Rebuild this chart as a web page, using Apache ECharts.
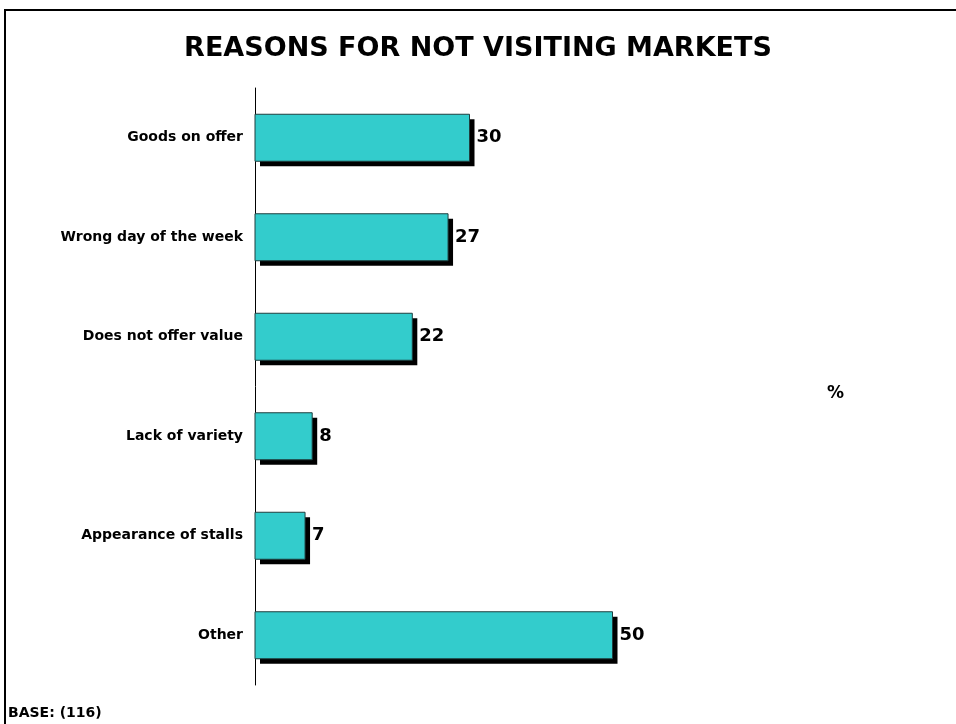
<!DOCTYPE html>
<html>
<head>
<meta charset="utf-8">
<script src="https://cdn.jsdelivr.net/npm/echarts@6/dist/echarts.min.js"></script>
<style>
  html, body { margin: 0; padding: 0; background: #fff; }
  #chart { width: 956px; height: 724px; }
</style>
</head>
<body>
<div id="chart"></div>
<script>
// Reasons given for not visiting markets (% of respondents)
const categories = [
  'Goods on offer',
  'Wrong day of the week',
  'Does not offer value',
  'Lack of variety',
  'Appearance of stalls',
  'Other'
];
const values = [30, 27, 22, 8, 7, 50];

const BAR_THICKNESS = 47;
const SHADOW_OFFSET = 5;

const chart = echarts.init(document.getElementById('chart'), null, { renderer: 'canvas' });

// Flat bar with a hard black drop shadow to the lower right
function renderShadowBar(params, api) {
  const cat = api.value(0);
  const val = api.value(1);
  const start = api.coord([0, cat]);
  const end = api.coord([val, cat]);
  const x = start[0];
  const y = start[1] - BAR_THICKNESS / 2;
  const w = end[0] - start[0];
  return {
    type: 'group',
    children: [
      {
        type: 'rect',
        shape: { x: x + SHADOW_OFFSET, y: y + SHADOW_OFFSET, width: w, height: BAR_THICKNESS },
        style: { fill: '#000' }
      },
      {
        type: 'rect',
        shape: { x: x, y: y, width: w, height: BAR_THICKNESS },
        style: { fill: '#33CCCC', stroke: '#1f3f3f', lineWidth: 1 }
      },
      {
        type: 'text',
        x: end[0] + SHADOW_OFFSET + 2,
        y: end[1],
        style: {
          text: String(val),
          fontFamily: 'DejaVu Sans',
          fontWeight: 'bold',
          fontSize: 18,
          fill: '#000',
          verticalAlign: 'middle',
          align: 'left'
        }
      }
    ]
  };
}

chart.setOption({
  backgroundColor: '#ffffff',
  animation: false,
  title: {
    text: 'REASONS FOR NOT VISITING MARKETS',
    left: 'center',
    top: 30,
    textStyle: {
      fontFamily: 'DejaVu Sans',
      fontWeight: 'bold',
      fontSize: 27,
      color: '#000'
    }
  },
  grid: { left: 255, top: 88, width: 572, height: 597 },
  xAxis: {
    type: 'value',
    min: 0,
    max: 80,
    show: false
  },
  yAxis: {
    type: 'category',
    data: categories,
    inverse: true,
    axisLine: { show: true, lineStyle: { color: '#000', width: 1 } },
    axisTick: { show: false },
    axisLabel: {
      margin: 12,
      fontFamily: 'DejaVu Sans',
      fontWeight: 'bold',
      fontSize: 14,
      color: '#000'
    },
    splitLine: { show: false }
  },
  series: [{
    type: 'custom',
    renderItem: renderShadowBar,
    encode: { x: 1, y: 0 },
    data: values.map((v, i) => [i, v])
  }],
  graphic: [
    {
      type: 'rect',
      shape: { x: 5, y: 10, width: 960, height: 730 },
      style: { fill: 'none', stroke: '#000', lineWidth: 2 },
      silent: true
    },
    {
      type: 'text',
      left: 827,
      top: 385,
      style: { text: '%', fontFamily: 'DejaVu Sans', fontWeight: 'bold', fontSize: 17, fill: '#000' }
    },
    {
      type: 'text',
      left: 8,
      top: 706,
      style: { text: 'BASE: (116)', fontFamily: 'DejaVu Sans', fontWeight: 'bold', fontSize: 14, fill: '#000' }
    }
  ]
});
</script>
</body>
</html>
